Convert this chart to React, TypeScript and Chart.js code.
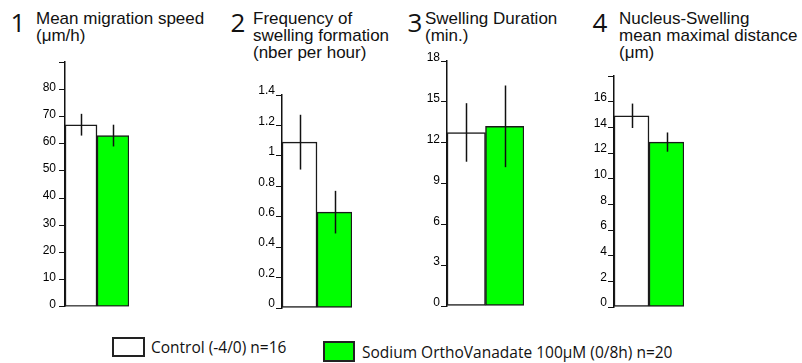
import React, { useEffect, useRef } from 'react';
import { Chart, registerables } from 'chart.js';

Chart.register(...registerables);

// ---------- data ----------
const groups = ['Control (-4/0) n=16', 'Sodium OrthoVanadate 100μM (0/8h) n=20'];
const barColors = ['#ffffff', '#00ff00'];

const speedMeans = [67, 63];
const speedErrors = [4, 4];
const speedTickValues = [0, 10, 20, 30, 40, 50, 60, 70, 80, 90];
const speedTickLabels = ['0', '10', '20', '30', '40', '50', '60', '70', '80', ''];

const freqMeans = [1.09, 0.63];
const freqErrors = [0.18, 0.14];
const freqTickValues = [0, 0.2, 0.4, 0.6, 0.8, 1, 1.2, 1.4];
const freqTickLabels = ['0', '0.2', '0.4', '0.6', '0.8', '1', '1.2', '1.4'];

const durationMeans = [12.75, 13.2];
const durationErrors = [2.15, 3.0];
const durationTickValues = [0, 3, 6, 9, 12, 15, 18];
const durationTickLabels = ['0', '3', '6', '9', '12', '15', '18'];

const distanceMeans = [14.9, 12.85];
const distanceErrors = [0.95, 0.75];
const distanceTickValues = [0, 2, 4, 6, 8, 10, 12, 14, 16, 18];
const distanceTickLabels = ['0', '2', '4', '6', '8', '10', '12', '14', '16', ''];

const panelNumbers = ['1', '2', '3', '4'];
const panelTitles = [
  ['Mean migration speed', '(μm/h)'],
  ['Frequency of', 'swelling formation', '(nber per hour)'],
  ['Swelling Duration', '(min.)'],
  ['Nucleus-Swelling', 'mean maximal distance', '(μm)'],
];

// ---------- layout ----------
const AXIS_W = 34;
const PAD_T = 10;
const PAD_B = 10;
const PAD_R = 4;

type Panel = {
  means: number[];
  errors: number[];
  tickValues: number[];
  tickLabels: string[];
  left: number;
  top: number;
  plotW: number;
  plotH: number;
  labelOffset: number;
  labelPad: number;
};

const panels: Panel[] = [
  { means: speedMeans, errors: speedErrors, tickValues: speedTickValues, tickLabels: speedTickLabels, left: 65 - AXIS_W, top: 62 - PAD_T, plotW: 64, plotH: 245, labelOffset: -2, labelPad: 3 },
  { means: freqMeans, errors: freqErrors, tickValues: freqTickValues, tickLabels: freqTickLabels, left: 282 - AXIS_W, top: 95 - PAD_T, plotW: 70, plotH: 213, labelOffset: -4, labelPad: 1 },
  { means: durationMeans, errors: durationErrors, tickValues: durationTickValues, tickLabels: durationTickLabels, left: 447 - AXIS_W, top: 61 - PAD_T, plotW: 77, plotH: 245, labelOffset: -3, labelPad: 1 },
  { means: distanceMeans, errors: distanceErrors, tickValues: distanceTickValues, tickLabels: distanceTickLabels, left: 614 - AXIS_W, top: 76 - PAD_T, plotW: 70, plotH: 231, labelOffset: -4, labelPad: 1 },
];

const errorBarPlugin = {
  id: 'errorBars',
  afterDatasetsDraw(chart: any, _args: any, opts: any) {
    const errs: number[] = opts.errors || [];
    const ctx = chart.ctx;
    const meta = chart.getDatasetMeta(0);
    const yScale = chart.scales.y;
    const values = chart.data.datasets[0].data as number[];
    ctx.save();
    ctx.strokeStyle = '#111';
    ctx.lineWidth = 1.5;
    meta.data.forEach((bar: any, i: number) => {
      const x = Math.round(bar.x) + 0.5;
      ctx.beginPath();
      ctx.moveTo(x, yScale.getPixelForValue(values[i] + errs[i]));
      ctx.lineTo(x, yScale.getPixelForValue(values[i] - errs[i]));
      ctx.stroke();
    });
    ctx.restore();
  },
};

function BarPanel({ p }: { p: Panel }) {
  const ref = useRef<HTMLCanvasElement>(null);
  const width = AXIS_W + p.plotW + PAD_R;
  const height = PAD_T + p.plotH + PAD_B;
  useEffect(() => {
    if (!ref.current) return;
    const chart = new Chart(ref.current, {
      type: 'bar',
      data: {
        labels: groups,
        datasets: [
          {
            data: p.means,
            backgroundColor: barColors,
            borderColor: '#1a1a1a',
            borderWidth: 1.5,
            borderSkipped: false,
            categoryPercentage: 1,
            barPercentage: 1,
          },
        ],
      },
      options: {
        responsive: false,
        animation: false,
        devicePixelRatio: 1,
        layout: { padding: { top: PAD_T, bottom: PAD_B, left: 0, right: PAD_R } },
        plugins: {
          legend: { display: false },
          tooltip: { enabled: false },
          title: { display: false },
          errorBars: { errors: p.errors },
        } as any,
        scales: {
          x: { display: false },
          y: {
            min: p.tickValues[0],
            max: p.tickValues[p.tickValues.length - 1],
            afterBuildTicks: (s: any) => {
              s.ticks = p.tickValues.map((v) => ({ value: v }));
            },
            afterFit: (s: any) => {
              s.width = AXIS_W;
            },
            ticks: {
              autoSkip: false,
              callback: (_v: any, i: number) => p.tickLabels[i],
              font: { family: 'Liberation Sans, Arial, sans-serif', size: 12 },
              color: '#000',
              padding: p.labelPad,
              labelOffset: p.labelOffset,
            },
            grid: {
              display: true,
              drawOnChartArea: false,
              drawTicks: true,
              tickLength: 6,
              color: '#111',
              lineWidth: 1,
            },
            border: { display: true, color: '#111', width: 1.5 },
          },
        },
      },
      plugins: [errorBarPlugin],
    });
    return () => chart.destroy();
  }, []);
  return (
    <div style={{ position: 'absolute', left: p.left, top: p.top, width, height }}>
      <canvas ref={ref} width={width} height={height} style={{ display: 'block' }} />
    </div>
  );
}

const digitCenters = [18, 238, 415, 600];
const titleLefts = [36, 253, 425, 619];

export default function App() {
  return (
    <div
      style={{
        position: 'fixed',
        left: 0,
        top: 0,
        width: 802,
        height: 363,
        background: '#fff',
        overflow: 'hidden',
      }}
    >
      {panelNumbers.map((n, i) => (
        <div
          key={'n' + i}
          style={{
            position: 'absolute',
            left: digitCenters[i] - 15,
            top: 9,
            width: 30,
            textAlign: 'center',
            fontFamily: '"Open Sans", sans-serif',
            fontSize: 26,
            lineHeight: '26px',
            color: '#111',
          }}
        >
          {n}
        </div>
      ))}
      {panelTitles.map((lines, i) => (
        <div
          key={'t' + i}
          style={{
            position: 'absolute',
            left: titleLefts[i],
            top: 10,
            fontFamily: '"Liberation Sans", Arial, sans-serif',
            fontSize: 17,
            lineHeight: '17px',
            color: '#111',
            whiteSpace: 'nowrap',
          }}
        >
          {lines.map((l, j) => (
            <div key={j}>{l}</div>
          ))}
        </div>
      ))}
      {panels.map((p, i) => (
        <BarPanel key={i} p={p} />
      ))}
      {/* legend */}
      <div
        style={{
          position: 'absolute',
          left: 112,
          top: 337,
          width: 33,
          height: 20,
          boxSizing: 'border-box',
          border: '2px solid #222',
          background: barColors[0],
        }}
      />
      <div
        style={{
          position: 'absolute',
          left: 151,
          top: 339,
          fontFamily: '"Open Sans", sans-serif',
          fontSize: 15.5,
          lineHeight: '16px',
          color: '#111',
          whiteSpace: 'nowrap',
        }}
      >
        {groups[0]}
      </div>
      <div
        style={{
          position: 'absolute',
          left: 323,
          top: 341,
          width: 32,
          height: 21,
          boxSizing: 'border-box',
          border: '2px solid #222',
          background: barColors[1],
        }}
      />
      <div
        style={{
          position: 'absolute',
          left: 362,
          top: 344,
          fontFamily: '"Open Sans", sans-serif',
          fontSize: 15.5,
          lineHeight: '16px',
          color: '#111',
          whiteSpace: 'nowrap',
        }}
      >
        {groups[1]}
      </div>
    </div>
  );
}
